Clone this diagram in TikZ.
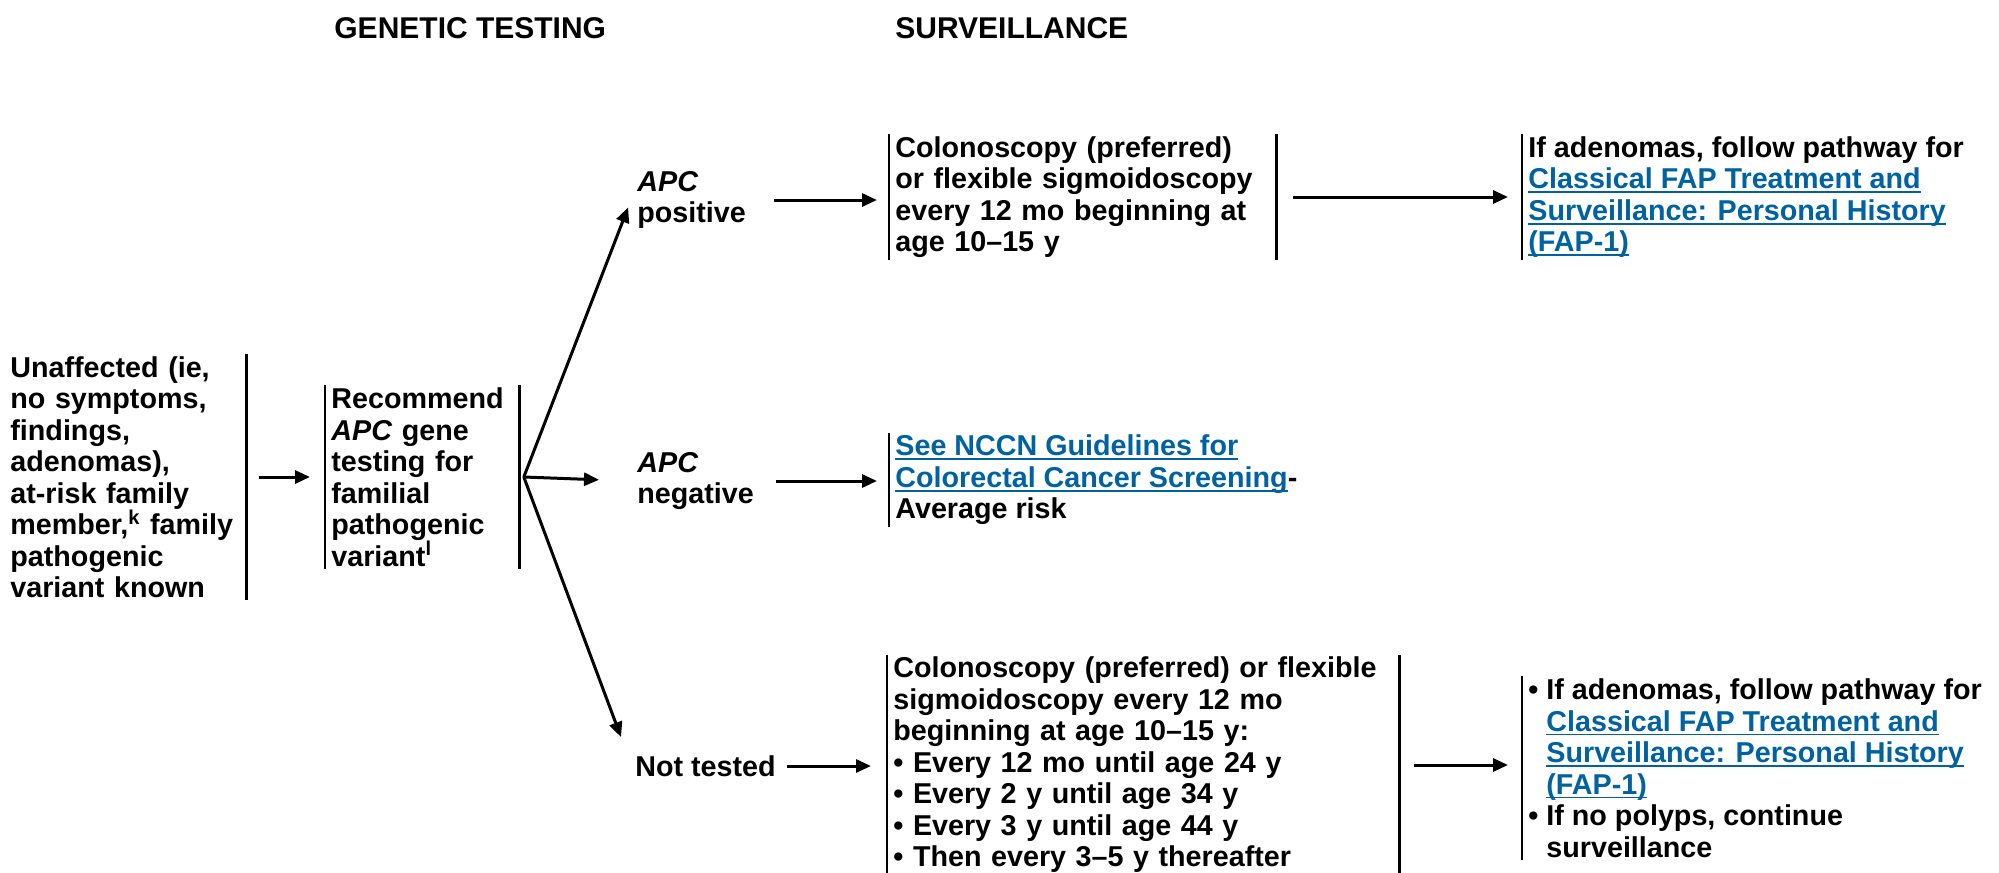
\documentclass[tikz,border=0pt]{standalone}
\usepackage{fontspec}
\setmainfont{Liberation Sans}
\usetikzlibrary{arrows.meta}

\definecolor{nccnblue}{RGB}{0,98,160}
\newcommand\lnk[1]{\textcolor{nccnblue}{\setbox0\hbox{#1}\rlap{\rule[-2.2pt]{\wd0}{0.9pt}}\box0}}
\newcommand\bul{\textbullet\ }
\newcommand\hang{\hphantom{\textbullet\ }}

\tikzset{
  txt/.style={font=\fontsize{14.35}{15.75}\selectfont\bfseries, align=left, inner xsep=3pt, inner ysep=1pt},
  head/.style={font=\fontsize{15}{18}\selectfont\bfseries, inner sep=0pt},
  arr/.style={line width=1.5pt, -{Triangle[length=7.5pt,width=6.5pt]}},
  bar/.style={line width=1.4pt}
}

\begin{document}
\begin{tikzpicture}[x=0.5pt,y=-0.5pt]
\useasboundingbox (0,0) rectangle (1999,873);

\node[head,anchor=west] (genhead) at (334,28) {GENETIC TESTING};
\node[head,anchor=west] (survhead) at (895,28) {SURVEILLANCE};

\node[txt,anchor=west,text width=115pt] (unaff) at (4,477)
  {Unaffected (ie,\\ no symptoms,\\ findings,\\ adenomas),\\ at-risk family\\ member,\textsuperscript{k} family\\ pathogenic\\ variant known};
\node[txt,anchor=west,text width=91pt] (recomm) at (325,477)
  {Recommend\\ \textit{APC} gene\\ testing for\\ familial\\ pathogenic\\ variant\textsuperscript{l}};

\node[txt,anchor=west] (apcpos) at (631,200) {\textit{APC}\\ positive};
\node[txt,anchor=west] (apcneg) at (631,481) {\textit{APC}\\ negative};
\node[txt,anchor=west] (nottest) at (629,766) {Not tested};

\node[txt,anchor=west,text width=187.5pt] (colonC) at (889,197)
  {Colonoscopy (preferred)\\ or flexible sigmoidoscopy\\ every 12 mo beginning at\\ age 10--15 y};
\node[txt,anchor=west] (fapD) at (1522,197)
  {If adenomas, follow pathway for\\ \lnk{Classical FAP Treatment and}\\ \lnk{Surveillance: Personal History}\\ \lnk{(FAP-1)}};
\node[txt,anchor=west] (screenE) at (889,480)
  {\lnk{See NCCN Guidelines for}\\ \lnk{Colorectal Cancer Screening}-\\ Average risk};
\node[txt,anchor=west,text width=250pt] (colonF) at (887,765)
  {Colonoscopy (preferred) or flexible\\ sigmoidoscopy every 12 mo\\ beginning at age 10--15 y:\\ \bul Every 12 mo until age 24 y\\ \bul Every 2 y until age 34 y\\ \bul Every 3 y until age 44 y\\ \bul Then every 3--5 y thereafter};
\node[txt,anchor=west] (fapG) at (1522,768)
  {\bul If adenomas, follow pathway for\\ \hang\lnk{Classical FAP Treatment and}\\ \hang\lnk{Surveillance: Personal History}\\ \hang\lnk{(FAP-1)}\\ \bul If no polyps, continue\\ \hang surveillance};

\draw[bar] (unaff.north east) -- (unaff.south east);
\draw[bar] (recomm.north west) -- (recomm.south west);
\draw[bar] (recomm.north east) -- (recomm.south east);
\draw[bar] (colonC.north west) -- (colonC.south west);
\draw[bar] (colonC.north east) -- (colonC.south east);
\draw[bar] (fapD.north west) -- (fapD.south west);
\draw[bar] (screenE.north west) -- (screenE.south west);
\draw[bar] (colonF.north west) -- (colonF.south west);
\draw[bar] (colonF.north east) -- (colonF.south east);
\draw[bar] (fapG.north west) -- (fapG.south west);

\coordinate (fork) at ([xshift=2pt]recomm.east);

\draw[arr,shorten <=6pt,shorten >=7.5pt] (unaff.east) -- (unaff.east -| recomm.west);
\draw[arr,shorten >=4pt] (fork) -- (apcpos.west);
\draw[arr,shorten >=16pt] (fork) -- (apcneg.west);
\draw[arr] (fork) -- ([shift={(-4pt,8pt)}]nottest.north west);

\draw[arr,shorten <=11pt,shorten >=6pt] (apcpos.east) -- (apcpos.east -| colonC.west);
\draw[arr,shorten <=8pt,shorten >=6pt] (apcneg.east) -- (apcneg.east -| screenE.west);
\draw[arr,shorten <=2.5pt,shorten >=8pt] (nottest.east) -- (nottest.east -| colonF.west);
\draw[arr,shorten <=8pt,shorten >=7pt] (colonC.east) -- (colonC.east -| fapD.west);
\draw[arr,shorten <=7pt,shorten >=7pt] (colonF.east) -- (colonF.east -| fapG.west);
\end{tikzpicture}
\end{document}
